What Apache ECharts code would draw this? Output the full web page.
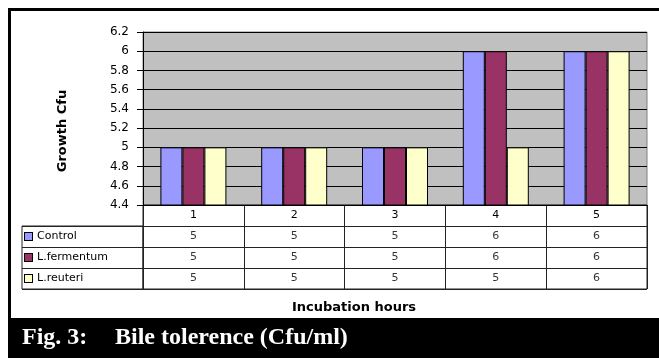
<!DOCTYPE html>
<html>
<head>
<meta charset="utf-8">
<script src="https://cdn.jsdelivr.net/npm/echarts@6/dist/echarts.min.js"></script>
<style>
  html, body { margin: 0; padding: 0; background: #fff; }
  #chart { width: 659px; height: 358px; }
</style>
</head>
<body>
<div id="chart"></div>
<script>
// data
var categories = ['1', '2', '3', '4', '5'];
var seriesNames = ['Control', 'L.fermentum', 'L.reuteri'];
var control = [5, 5, 5, 6, 6];
var fermentum = [5, 5, 5, 6, 6];
var reuteri = [5, 5, 5, 5, 6];
var colors = ['#9999FF', '#993366', '#FFFFCC'];

function barChart() {
    var myChart = echarts.init(document.getElementById('chart'));
    var values = [control, fermentum, reuteri];
    var font = 'DejaVu Sans, Verdana, sans-serif';

    // bars
    var series = values.map(function (vals, s) {
        return {
            name: seriesNames[s],
            type: 'bar',
            xAxisIndex: 0,
            yAxisIndex: 0,
            barWidth: 22,
            barGap: 0,
            itemStyle: { color: colors[s], borderColor: '#000', borderWidth: 1 },
            data: vals
        };
    });

    // numbers inside the data table
    var cells = [];
    values.forEach(function (vals, s) {
        vals.forEach(function (v, i) {
            cells.push([i, s + 1, v]);
        });
    });
    series.push({
        type: 'scatter',
        xAxisIndex: 1,
        yAxisIndex: 1,
        symbolSize: 1,
        itemStyle: { color: 'rgba(0,0,0,0)' },
        label: {
            show: true,
            position: 'inside',
            color: '#000',
            fontFamily: font,
            fontSize: 11,
            formatter: function (p) { return p.value[2]; }
        },
        data: cells
    });

    var rich = {};
    seriesNames.forEach(function (n, i) {
        rich['k' + i] = { width: 7, height: 7, backgroundColor: colors[i], borderColor: '#000', borderWidth: 1 };
    });
    rich.t = { fontFamily: font, fontSize: 11, color: '#000', padding: [0, 0, 0, 5] };

    option = {
        animation: false,
        backgroundColor: '#fff',
        grid: [
            { left: 143, top: 32, width: 504, height: 173, show: true, backgroundColor: '#C0C0C0', borderColor: '#808080', borderWidth: 1 },
            { left: 143, top: 205, width: 504, height: 84, show: true, borderColor: '#222', borderWidth: 1 },
            { left: 22, top: 226, width: 121, height: 63, show: true, borderColor: '#222', borderWidth: 1 }
        ],
        xAxis: [
            {
                type: 'category', gridIndex: 0, data: categories,
                axisLine: { lineStyle: { color: '#000' } },
                axisTick: { show: false },
                axisLabel: { margin: 5, color: '#000', fontFamily: font, fontSize: 11 },
                z: 10
            },
            {
                type: 'category', gridIndex: 1, data: categories,
                axisLine: { show: false }, axisTick: { show: false }, axisLabel: { show: false },
                splitLine: { show: true, interval: 0, lineStyle: { color: '#222', width: 1 } }
            },
            { type: 'value', gridIndex: 2, show: false }
        ],
        yAxis: [
            {
                type: 'value', gridIndex: 0, min: 4.4, max: 6.2, interval: 0.2,
                axisLine: { show: true, lineStyle: { color: '#000' } },
                axisTick: { show: true, length: 6, lineStyle: { color: '#000' } },
                axisLabel: { margin: 14, color: '#000', fontFamily: font, fontSize: 12 },
                splitLine: { show: true, lineStyle: { color: '#000', width: 1 } }
            },
            {
                type: 'category', gridIndex: 1, inverse: true, data: [''].concat(seriesNames),
                axisLine: { show: false }, axisTick: { show: false }, axisLabel: { show: false },
                splitLine: { show: true, interval: 0, lineStyle: { color: '#222', width: 1 } }
            },
            {
                type: 'category', gridIndex: 2, inverse: true, data: seriesNames,
                axisLine: { show: false }, axisTick: { show: false },
                axisLabel: {
                    inside: true, margin: 3, interval: 0,
                    formatter: function (v, i) { return '{k' + i + '|}{t|' + v + '}'; },
                    rich: rich
                },
                splitLine: { show: true, interval: 0, lineStyle: { color: '#222', width: 1 } }
            }
        ],
        graphic: [
            // outer frame
            { type: 'line', shape: { x1: 8, y1: 9.5, x2: 659, y2: 9.5 }, style: { stroke: '#000', lineWidth: 3 } },
            { type: 'line', shape: { x1: 9.5, y1: 8, x2: 9.5, y2: 358 }, style: { stroke: '#000', lineWidth: 3 } },
            // caption band
            { type: 'rect', shape: { x: 8, y: 318, width: 651, height: 40 }, style: { fill: '#000' } },
            { type: 'text', x: 22, y: 338, style: { text: 'Fig. 3:', fill: '#fff', font: 'bold 24px Liberation Serif, Times New Roman, serif', verticalAlign: 'middle' } },
            { type: 'text', x: 115, y: 338, style: { text: 'Bile tolerence (Cfu/ml)', fill: '#fff', font: 'bold 24px Liberation Serif, Times New Roman, serif', verticalAlign: 'middle' } },
            // axis titles
            { type: 'text', x: 354, y: 308, style: { text: 'Incubation hours', fill: '#000', font: 'bold 13px DejaVu Sans, Verdana, sans-serif', align: 'center', verticalAlign: 'middle' } },
            { type: 'text', x: 63, y: 131, rotation: Math.PI / 2, style: { text: 'Growth Cfu', fill: '#000', font: 'bold 13px DejaVu Sans, Verdana, sans-serif', align: 'center', verticalAlign: 'middle' } }
        ],
        series: series
    };
    myChart.setOption(option);
}

barChart();
</script>
</body>
</html>
